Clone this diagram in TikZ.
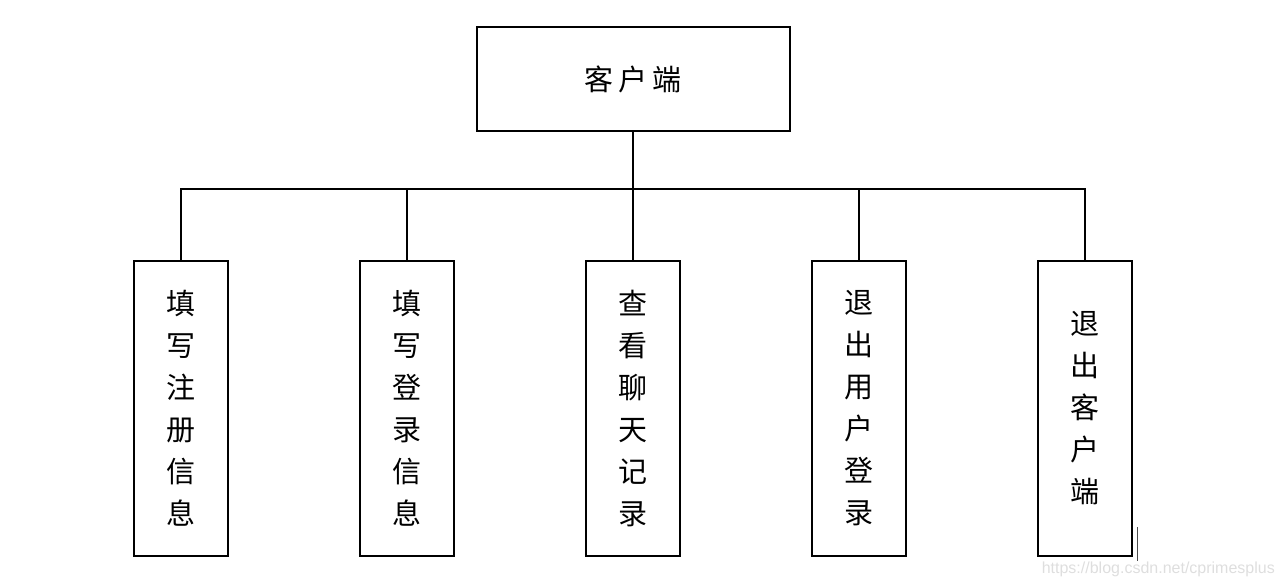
\documentclass[tikz,border=0pt]{standalone}
\usepackage{fontspec}
\newfontfamily\cjk{Noto Sans CJK SC}
\setmainfont{Liberation Sans}
\begin{document}
\begin{tikzpicture}[x=1pt,y=1pt,
  box/.style={draw=black,line width=2pt,fill=white,inner sep=0pt,align=center,
    font=\cjk\fontsize{29}{42}\selectfont},
  topbox/.style={box,minimum width=313pt,minimum height=104pt},
  leafbox/.style={box,minimum width=94pt,minimum height=295pt},
  link/.style={line width=2.5pt}]
\useasboundingbox (0,0) rectangle (1285,587);
\node[topbox] (root) at (633,508) {客\hspace{5pt}户\hspace{5pt}端};
\node[leafbox] (b1) at (181,178.5) {填\\写\\注\\册\\信\\息};
\node[leafbox] (b2) at (407,178.5) {填\\写\\登\\录\\信\\息};
\node[leafbox] (b3) at (633,178.5) {查\\看\\聊\\天\\记\\录};
\node[leafbox] (b4) at (859,178.5) {退\\出\\用\\户\\登\\录};
\node[leafbox] (b5) at (1085,178.5) {退\\出\\客\\户\\端};
\coordinate (bus) at (633,398);
\draw[link] (root.south) -- (bus);
\foreach \n in {b1,b2,b3,b4,b5}
  \draw[link] (\n.north) |- (bus);
\coordinate (m1) at (1137,60);
\coordinate (m2) at (1137,26);
\draw[line width=1pt,black!70] (m1) -- (m2);
\node[font=\fontsize{16}{18}\selectfont,text=black!13,anchor=east,inner sep=0pt] (wm) at (1275,18) {https://blog.csdn.net/cprimesplus};
\end{tikzpicture}
\end{document}
